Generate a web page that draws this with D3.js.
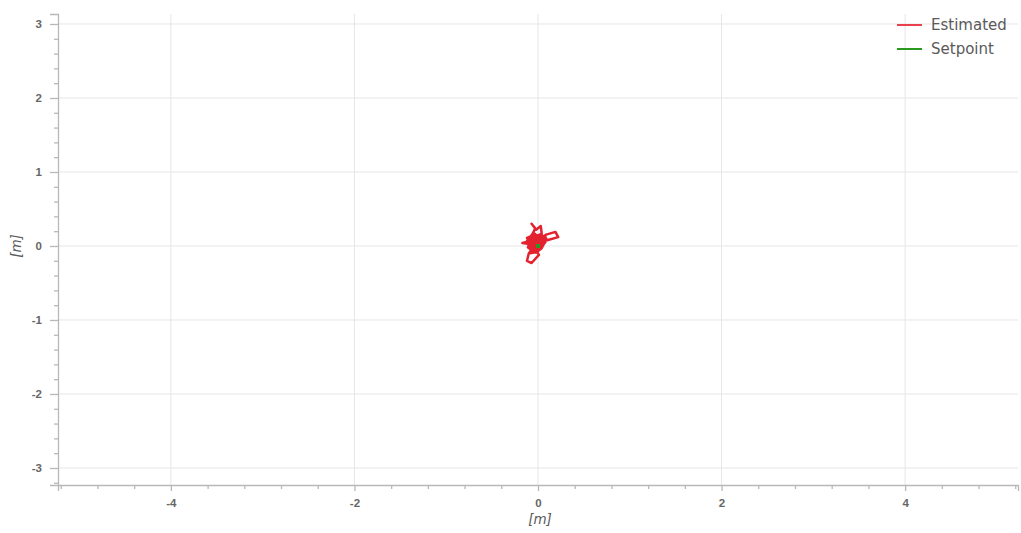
<!DOCTYPE html>
<html>
<head>
<meta charset="utf-8">
<script src="https://cdn.jsdelivr.net/npm/d3@7"></script>
<style>
  html, body { margin: 0; padding: 0; background: #fff; }
  svg { display: block; font-family: "Liberation Sans", Arial, sans-serif; }
</style>
</head>
<body>
<svg id="chart" width="1021" height="533"></svg>
<script>
// Estimated position trajectory (metres) around the hover setpoint
const estX = [0.00, 0.05, -0.04, -0.09, -0.05, 0.04, 0.07, 0.02, -0.06, -0.03, -0.07, -0.02, 0.03, 0.04, -0.02,
  -0.10, -0.17, -0.11, -0.08, 0.00, 0.05, 0.08, 0.08, 0.19, 0.22, 0.08, 0.04, -0.03, -0.08, -0.12,
  -0.06, -0.03, -0.09, -0.01, 0.01, -0.07, -0.12, -0.10, -0.05, 0.03, 0.06, 0.01, -0.04, -0.02, 0.00,
  -0.08, -0.11, -0.04, 0.02, 0.06, 0.09, 0.03, -0.05, -0.10, -0.07, 0.00, 0.05, 0.02, -0.06, -0.12,
  -0.09, -0.02, 0.04, 0.07, 0.01, -0.05, -0.10, -0.06, 0.03, 0.08, 0.04, -0.03, -0.08, -0.04, 0.01,
  -0.02, -0.09, -0.05, 0.02, 0.00];
const estY = [0.00, 0.04, 0.08, 0.02, -0.06, -0.03, 0.05, 0.12, 0.16, 0.24, 0.30, 0.22, 0.27, 0.17, 0.10,
  0.06, 0.04, 0.03, -0.05, -0.04, 0.02, 0.07, 0.15, 0.19, 0.12, 0.07, 0.02, 0.05, 0.13, 0.11,
  0.02, -0.06, -0.10, -0.08, -0.12, -0.23, -0.20, -0.10, -0.02, 0.01, 0.09, 0.14, 0.11, 0.03, 0.00,
  0.06, -0.02, -0.07, -0.05, 0.03, 0.10, 0.16, 0.12, 0.08, 0.00, -0.06, 0.01, 0.08, 0.15, 0.07,
  -0.04, -0.09, -0.03, 0.04, 0.12, 0.18, 0.10, 0.02, -0.02, 0.05, 0.13, 0.07, -0.01, -0.08, -0.04,
  0.06, 0.09, 0.02, -0.03, 0.00];

// Setpoint trajectory (metres)
const setX = [0.00, 0.00, 0.00];
const setY = [0.00, 0.00, 0.00];

const xTicks = [-4, -2, 0, 2, 4];
const yTicks = [-3, -2, -1, 0, 1, 2, 3];
const seriesNames = ["Estimated", "Setpoint"];
const seriesColors = ["#e3212f", "#2a9a1f"];
const legendColors = ["#e8414d", "#2a9a1f"];

const svg = d3.select("#chart");
const plotLeft = 58, plotRight = 1018, plotTop = 14, plotBottom = 485;

const x = d3.scaleLinear().domain([-5.23, 5.23]).range([plotLeft, plotRight]);
const y = d3.scaleLinear().domain([-3.23, 3.135]).range([plotBottom, plotTop]);

// grid
const grid = svg.append("g");
grid.selectAll("line.gx").data(xTicks).join("line")
  .attr("x1", d => x(d)).attr("x2", d => x(d))
  .attr("y1", plotTop).attr("y2", plotBottom)
  .attr("stroke", "#e6e6e6").attr("stroke-width", 1);
grid.selectAll("line.gy").data(yTicks).join("line")
  .attr("x1", plotLeft).attr("x2", plotRight)
  .attr("y1", d => y(d)).attr("y2", d => y(d))
  .attr("stroke", "#e6e6e6").attr("stroke-width", 1);

// axes
const minorX = d3.range(-5.2, 5.21, 0.4).map(v => +v.toFixed(2)).filter(v => !xTicks.some(t => Math.abs(t - v) < 1e-6));
const minorY = d3.range(-3.2, 3.21, 0.2).map(v => +v.toFixed(2)).filter(v => v <= 3.135 && !yTicks.some(t => Math.abs(t - v) < 1e-6));

const axisColor = "#b8b8b8";
const labelColor = "#5a5a5a";
const fmt = d => String(d); // plain hyphen-minus for negatives

const xAxis = svg.append("g").attr("transform", `translate(0,${plotBottom})`);
xAxis.call(d3.axisBottom(x).tickValues(xTicks).tickSize(6).tickPadding(8).tickFormat(fmt));
const xMinor = svg.append("g").attr("transform", `translate(0,${plotBottom})`);
xMinor.call(d3.axisBottom(x).tickValues(minorX).tickSize(4).tickFormat(""));
xMinor.select(".domain").remove();

const yAxis = svg.append("g").attr("transform", `translate(${plotLeft},0)`);
yAxis.call(d3.axisLeft(y).tickValues(yTicks).tickSize(8).tickPadding(8).tickFormat(fmt));
const yMinor = svg.append("g").attr("transform", `translate(${plotLeft},0)`);
yMinor.call(d3.axisLeft(y).tickValues(minorY).tickSize(4).tickFormat(""));
yMinor.select(".domain").remove();

svg.selectAll(".domain").attr("stroke", axisColor).attr("stroke-width", 1.3);
svg.selectAll(".tick line").attr("stroke", axisColor).attr("stroke-width", 1.3);
svg.selectAll(".tick text").attr("fill", "#666").attr("font-size", 11.5)
  .attr("font-family", "Liberation Sans, Arial, sans-serif").attr("font-weight", "bold");

// axis labels
svg.append("text").attr("x", 540).attr("y", 524).attr("text-anchor", "middle")
  .attr("font-size", 13.5).attr("font-style", "italic").attr("fill", labelColor)
  .attr("font-family", "DejaVu Sans, sans-serif").text("[m]");
svg.append("text").attr("transform", `translate(21,${y(0)}) rotate(-90)`).attr("text-anchor", "middle")
  .attr("font-size", 13.5).attr("font-style", "italic").attr("fill", labelColor)
  .attr("font-family", "DejaVu Sans, sans-serif").text("[m]");

// series
const line = d3.line().x(d => x(d[0])).y(d => y(d[1]));
const plot = svg.append("g");
plot.append("path").datum(d3.zip(estX, estY))
  .attr("d", line).attr("fill", "none").attr("stroke", seriesColors[0])
  .attr("stroke-width", 2.5).attr("stroke-linejoin", "round");
plot.append("path").datum(d3.zip(setX, setY))
  .attr("d", line).attr("fill", "none").attr("stroke", seriesColors[1])
  .attr("stroke-width", 4).attr("stroke-linecap", "square");

// legend
const legend = svg.append("g");
seriesNames.forEach((name, i) => {
  const ly = 25 + i * 24;
  legend.append("line").attr("x1", 897).attr("x2", 922).attr("y1", ly).attr("y2", ly)
    .attr("stroke", legendColors[i]).attr("stroke-width", 2);
  legend.append("text").attr("x", 931).attr("y", ly + 5).attr("font-size", 15)
    .attr("font-family", "DejaVu Sans, sans-serif")
    .attr("fill", labelColor).text(name);
});
</script>
</body>
</html>
